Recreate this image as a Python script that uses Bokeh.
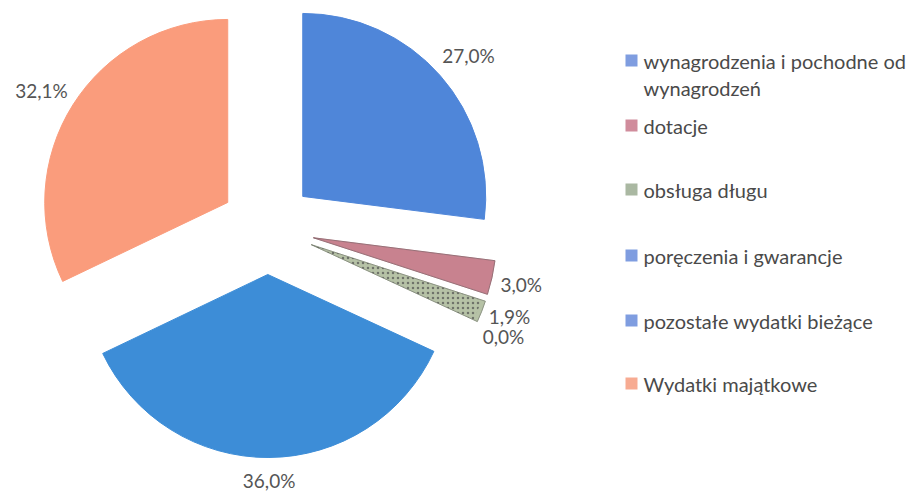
import numpy as np
from bokeh.plotting import figure
from bokeh.models import ColumnDataSource, Range1d
from bokeh.core.properties import value
from bokeh.embed import file_html
from bokeh.resources import INLINE

# ---- data ----
categories = ["wynagrodzenia i pochodne od wynagrodzeń", "dotacje", "obsługa długu",
              "poręczenia i gwarancje", "pozostałe wydatki bieżące", "Wydatki majątkowe"]
shares = [27.0, 3.0, 1.9, 0.0, 36.0, 32.1]
pct_labels = ["27,0%", "3,0%", "1,9%", "0,0%", "36,0%", "32,1%"]
legend_lines = [["wynagrodzenia i pochodne od", "wynagrodzeń"], ["dotacje"], ["obsługa długu"],
                ["poręczenia i gwarancje"], ["pozostałe wydatki bieżące"], ["Wydatki majątkowe"]]

# ---- styles / layout ----
slice_colors = ["#4f86d9", "#c8828f", "#b6c2a6", "#7b9be0", "#3d8dd7", "#fa9c7c"]
legend_colors = ["#7f9de0", "#d08c9c", "#aab8a2", "#7f9de0", "#7f9de0", "#f7ab92"]
W, H = 922, 493
cx, cy = 267, 266          # pie centre (data units = px)
R = 183                    # radius px
explode = 47               # explosion distance px
label_r = 213
label_nudge_x = [6, 0, 0, 0, 0, -6]
label_nudge_y = [0, 0, 6, 0, 7, -2]
legend_x = 625
legend_y_rows = [433, 368, 304, 238, 173, 110]
line_step = 27

p = figure(width=W, height=H, output_backend="svg", toolbar_location=None,
           x_range=Range1d(0, W), y_range=Range1d(0, H),
           x_axis_type=None, y_axis_type=None, min_border=0)
p.outline_line_color = None
p.grid.visible = False
p.background_fill_color = "white"
p.border_fill_color = "white"

frac = np.array(shares) / 100.0
cum = np.concatenate([[0], np.cumsum(frac)])
start_f, end_f = cum[:-1], cum[1:]
mid_f = (start_f + end_f) / 2
# angles: measured ccw from +x, pie runs clockwise from 12 o'clock
start_a = np.pi / 2 - 2 * np.pi * start_f
end_a = np.pi / 2 - 2 * np.pi * end_f
mid_a = np.pi / 2 - 2 * np.pi * mid_f
xs = cx + explode * np.cos(mid_a)
ys = cy + explode * np.sin(mid_a)

nz = frac > 0  # a zero share draws nothing
src = ColumnDataSource(dict(x=xs[nz], y=ys[nz], start=end_a[nz], end=start_a[nz],
                            color=np.array(slice_colors)[nz]))
p.wedge(x="x", y="y", radius=R, radius_units="screen", start_angle="start", end_angle="end",
        fill_color="color", line_color="color", line_width=1, source=src)

# darker edge/texture on the thin slices
thin = ColumnDataSource(dict(x=xs[1:3], y=ys[1:3], start=end_a[1:3], end=start_a[1:3]))
p.wedge(x="x", y="y", radius=R, radius_units="screen", start_angle="start", end_angle="end",
        fill_color=None, line_color="#5a5a5a", line_width=1, line_alpha=0.45, source=thin)
green = ColumnDataSource(dict(x=xs[2:3], y=ys[2:3], start=end_a[2:3], end=start_a[2:3]))
p.wedge(x="x", y="y", radius=R - 4, radius_units="screen", start_angle="start", end_angle="end",
        fill_color=None, line_color=None, hatch_pattern="dot", hatch_color="#505050",
        hatch_scale=5, hatch_alpha=0.7, source=green)

# percentage labels
lx = xs + label_r * np.cos(mid_a) + np.array(label_nudge_x)
ly = ys + label_r * np.sin(mid_a) + np.array(label_nudge_y)
p.text(x=lx, y=ly, text=pct_labels, text_align="center", text_baseline="middle",
       text_font=value("Lato"), text_font_size="19px", text_color="#555555")

# legend
sq_x, sq_y, t_x, t_y, t_txt = [], [], [], [], []
for i, lines in enumerate(legend_lines):
    sq_x.append(legend_x + 6)
    sq_y.append(legend_y_rows[i])
    for j, ln in enumerate(lines):
        t_x.append(legend_x + 18)
        t_y.append(legend_y_rows[i] - j * line_step)
        t_txt.append(ln)
p.scatter(x=sq_x, y=sq_y, marker="square", size=12, fill_color=legend_colors,
          line_color=None)
p.text(x=t_x, y=t_y, text=t_txt, text_align="left", text_baseline="middle",
       text_font=value("Lato"), text_font_size="20px", text_color="#4a4a4a")

open("out.html", "w").write(file_html(p, INLINE))
